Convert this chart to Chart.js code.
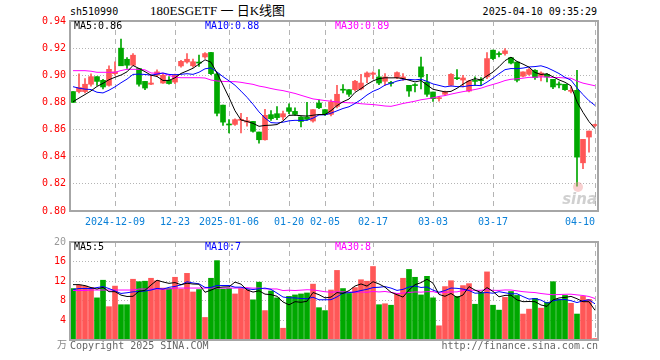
<!DOCTYPE html>
<html>
<head>
<meta charset="utf-8">
<script src="https://cdn.jsdelivr.net/npm/chart.js@4.4.1/dist/chart.umd.min.js"></script>
<style>
body { margin: 0; background: #fff; width: 660px; height: 360px; overflow: hidden; position: relative;
       font-family: 'DejaVu Sans Mono', 'Noto Sans CJK SC', monospace; font-size: 10px; color: #000; }
.t { position: absolute; white-space: pre; line-height: 12px; }
#priceBox { position: absolute; left: 0; top: 0; width: 660px; height: 232px; }
#volBox { position: absolute; left: 0; top: 232px; width: 660px; height: 128px; }
</style>
</head>
<body>
<div class="t" style="left:70px;top:6px;">sh510990</div>
<div class="t" style="left:150px;top:3px;line-height:16px;font-size:13px;font-family:'Liberation Serif','Noto Sans CJK SC',serif;">180ESGETF 一 日K线图</div>
<div class="t" style="right:63px;top:6px;">2025-04-10 09:35:29</div>
<div id="priceBox"><canvas id="priceChart"></canvas></div>
<div id="volBox"><canvas id="volChart"></canvas></div>
<div class="t" style="left:57px;top:339px;color:#888;">万</div>
<div class="t" style="left:70px;top:340px;color:#666;">Copyright 2025 SINA.COM</div>
<div class="t" style="right:62px;top:340px;color:#666;">http://finance.sina.com.cn</div>
<script>
// 交易日
const dates = [
    '2024-11-28', '2024-11-29', '2024-12-02', '2024-12-03', '2024-12-04', '2024-12-05', '2024-12-06',
    '2024-12-09', '2024-12-10', '2024-12-11', '2024-12-12', '2024-12-13', '2024-12-16', '2024-12-17',
    '2024-12-18', '2024-12-19', '2024-12-20', '2024-12-23', '2024-12-24', '2024-12-25', '2024-12-26',
    '2024-12-27', '2024-12-30', '2024-12-31', '2025-01-02', '2025-01-03', '2025-01-06', '2025-01-07',
    '2025-01-08', '2025-01-09', '2025-01-10', '2025-01-13', '2025-01-14', '2025-01-15', '2025-01-16',
    '2025-01-17', '2025-01-20', '2025-01-21', '2025-01-22', '2025-01-23', '2025-01-24', '2025-01-27',
    '2025-02-05', '2025-02-06', '2025-02-07', '2025-02-10', '2025-02-11', '2025-02-12', '2025-02-13',
    '2025-02-14', '2025-02-17', '2025-02-18', '2025-02-19', '2025-02-20', '2025-02-21', '2025-02-24',
    '2025-02-25', '2025-02-26', '2025-02-27', '2025-02-28', '2025-03-03', '2025-03-04', '2025-03-05',
    '2025-03-06', '2025-03-07', '2025-03-10', '2025-03-11', '2025-03-12', '2025-03-13', '2025-03-14',
    '2025-03-17', '2025-03-18', '2025-03-19', '2025-03-20', '2025-03-21', '2025-03-24', '2025-03-25',
    '2025-03-26', '2025-03-27', '2025-03-28', '2025-03-31', '2025-04-01', '2025-04-02', '2025-04-03',
    '2025-04-07', '2025-04-08', '2025-04-09', '2025-04-10'
];

// x轴刻度
const tickDates = ['2024-12-09', '2024-12-23', '2025-01-06', '2025-01-20', '2025-02-05',
                   '2025-02-17', '2025-03-03', '2025-03-17', '2025-04-10'];
const tickLabels = ['2024-12-09', '12-23', '2025-01-06', '01-20', '02-05',
                    '02-17', '03-03', '03-17', '04-10'];

// K线 开高低收
const opens = [
    0.888, 0.888, 0.888, 0.8934, 0.899, 0.8963, 0.8926, 0.9012, 0.920, 0.9118,
    0.9074, 0.905, 0.8955, 0.8934, 0.900, 0.8943, 0.8963, 0.895, 0.9069, 0.9098,
    0.907, 0.9095, 0.9135, 0.9168, 0.901, 0.878, 0.8636, 0.8638, 0.8668, 0.8655,
    0.866, 0.8582, 0.8525, 0.871, 0.8717, 0.8693, 0.8761, 0.8734, 0.8693, 0.8693,
    0.8663, 0.8796, 0.8747, 0.8712, 0.8771, 0.8895, 0.8894, 0.8894, 0.890, 0.8988,
    0.9007, 0.8988, 0.8956, 0.8945, 0.8983, 0.8975, 0.8926, 0.8928, 0.9062, 0.895,
    0.8877, 0.8828, 0.886, 0.8926, 0.8978, 0.8965, 0.8884, 0.8960, 0.8965, 0.8988,
    0.9185, 0.9157, 0.916, 0.913, 0.9098, 0.8993, 0.9007, 0.9037, 0.8993, 0.9007,
    0.897, 0.8933, 0.8934, 0.8882, 0.8889, 0.8355, 0.8545, 0.863
];
const highs = [
    0.888, 0.901, 0.8975, 0.901, 0.899, 0.897, 0.907, 0.910, 0.9266, 0.913,
    0.916, 0.905, 0.8955, 0.900, 0.904, 0.901, 0.899, 0.9008, 0.911, 0.916,
    0.912, 0.9148, 0.9168, 0.917, 0.902, 0.878, 0.8673, 0.868, 0.872, 0.869,
    0.866, 0.8582, 0.875, 0.874, 0.877, 0.8737, 0.879, 0.876, 0.8695, 0.880,
    0.8747, 0.882, 0.8747, 0.882, 0.8926, 0.8931, 0.8894, 0.8963, 0.9007, 0.9025,
    0.9025, 0.9042, 0.9012, 0.8956, 0.9025, 0.9012, 0.8926, 0.8939, 0.9135, 0.9007,
    0.8877, 0.8845, 0.8884, 0.9012, 0.9042, 0.900, 0.8963, 0.8988, 0.8983, 0.9167,
    0.9185, 0.9172, 0.9197, 0.913, 0.9098, 0.9025, 0.905, 0.9042, 0.9025, 0.9012,
    0.897, 0.8951, 0.8934, 0.8914, 0.9037, 0.8528, 0.8589, 0.864
];
const lows = [
    0.880, 0.887, 0.887, 0.892, 0.8926, 0.890, 0.892, 0.900, 0.907, 0.905,
    0.907, 0.892, 0.8894, 0.893, 0.899, 0.894, 0.8934, 0.8938, 0.906, 0.909,
    0.906, 0.9066, 0.9125, 0.9005, 0.870, 0.863, 0.8575, 0.863, 0.8575, 0.8625,
    0.858, 0.850, 0.8522, 0.8668, 0.8673, 0.8673, 0.8717, 0.8705, 0.8619, 0.867,
    0.8655, 0.8754, 0.8705, 0.870, 0.876, 0.887, 0.8845, 0.8884, 0.8893, 0.8946,
    0.8975, 0.8931, 0.8926, 0.892, 0.8975, 0.8963, 0.8845, 0.8877, 0.890, 0.8845,
    0.8808, 0.881, 0.8852, 0.8921, 0.8968, 0.8914, 0.8877, 0.8926, 0.8926, 0.8975,
    0.9115, 0.9135, 0.9148, 0.9083, 0.8951, 0.8988, 0.900, 0.897, 0.8958, 0.8951,
    0.8901, 0.8907, 0.8889, 0.887, 0.8183, 0.8311, 0.8434, 0.862
];
const closes = [
    0.880, 0.891, 0.8934, 0.899, 0.8955, 0.8914, 0.9044, 0.9025, 0.907, 0.9074,
    0.9148, 0.8934, 0.8906, 0.8943, 0.9025, 0.900, 0.8939, 0.900, 0.9103, 0.9118,
    0.910, 0.909, 0.916, 0.9012, 0.872, 0.8655, 0.8634, 0.8673, 0.867, 0.8665,
    0.8587, 0.8525, 0.8705, 0.868, 0.8688, 0.8717, 0.8734, 0.8712, 0.866, 0.8675,
    0.8747, 0.8761, 0.8712, 0.8803, 0.886, 0.889, 0.886, 0.8956, 0.8943, 0.9017,
    0.9017, 0.8943, 0.8988, 0.894, 0.902, 0.8988, 0.8884, 0.8924, 0.8988, 0.886,
    0.8828, 0.8835, 0.8877, 0.9007, 0.8975, 0.898, 0.8958, 0.8955, 0.896, 0.9123,
    0.9123, 0.9153, 0.918, 0.909, 0.8963, 0.9025, 0.9042, 0.8983, 0.9017, 0.8988,
    0.8914, 0.8929, 0.8894, 0.8885, 0.8397, 0.8528, 0.8589, 0.8636
];

// 成交量(万)
const volumes = [
    10.5, 11.2, 11.0, 10.7, 8.6, 12.2, 6.8, 11.0, 7.2, 7.2,
    12.4, 11.9, 12.0, 12.6, 12.1, 10.6, 10.5, 12.8, 10.4, 13.6,
    9.8, 10.3, 4.6, 12.6, 16.2, 10.4, 10.5, 9.4, 10.5, 10.3,
    8.2, 11.8, 6.0, 10.0, 8.6, 2.4, 8.9, 9.2, 9.4, 9.6,
    11.4, 6.6, 6.0, 10.2, 14.2, 10.5, 9.5, 10.7, 12.3, 12.0,
    15.0, 7.2, 7.4, 7.1, 9.5, 12.6, 14.4, 12.8, 9.2, 13.0,
    8.6, 2.9, 10.9, 12.1, 8.9, 11.1, 11.5, 7.3, 9.7, 13.9,
    7.1, 6.1, 8.7, 9.9, 9.1, 5.3, 6.3, 8.5, 6.5, 7.7,
    11.9, 8.3, 9.1, 7.5, 5.3, 8.9, 8.3, 0.3
];

// 图上可见的均线起始段(窗口之前没有数据)
const ma5Head = [0.8805, 0.8832, 0.8858, 0.8885];
const ma10Head = [0.8916, 0.8905, 0.8898, 0.8895, 0.8875, 0.887, 0.889, 0.8915, 0.8945];
const ma30Head = [
    0.9034, 0.9034, 0.9034, 0.903, 0.9022, 0.9022, 0.9022, 0.9022, 0.9035, 0.9044,
    0.9044, 0.9044, 0.904, 0.9017, 0.9015, 0.9015, 0.900, 0.8985, 0.8982, 0.8982,
    0.8982, 0.8982, 0.898, 0.8965, 0.8958, 0.8955, 0.8953, 0.8953, 0.8948
];
const volMa5Head = [11.3, 11.3, 11.1, 10.7];
const volMa10Head = [10.3, 10.5, 10.5, 10.5, 10.7, 10.9, 10.5, 10.0, 9.5];
const volMa30Head = [
    10.1, 10.1, 10.1, 10.2, 10.2, 10.2, 10.2, 10.2, 10.2, 10.2,
    10.2, 10.4, 10.4, 10.4, 10.4, 10.4, 10.4, 10.6, 10.6, 10.6,
    10.6, 10.6, 10.6, 10.6, 10.6, 10.6, 10.6, 10.6, 10.6
];

Chart.defaults.font.family = "'DejaVu Sans Mono', monospace";
Chart.defaults.font.size = 10;
Chart.defaults.animation = false;

const UP = '#ff5757';
const DOWN = '#00a800';
const candleColors = closes.map((c, i) => c >= opens[i] ? UP : DOWN);

function movingAverage(values, n, head) {
    return values.map((v, i) => {
        if (i < n - 1) return head[i];
        let sum = 0;
        for (let k = i - n + 1; k <= i; k++) sum += values[k];
        return sum / n;
    });
}

function maLine(data, color) {
    return {
        type: 'line', data: data, borderColor: color, borderWidth: 1,
        pointRadius: 0, tension: 0, order: 0
    };
}

// 日期竖线只画在刻度日
function dateGridColor(ctx) {
    return tickDates.includes(dates[ctx.index]) ? '#b4b4b4' : 'rgba(0,0,0,0)';
}

// 边框 + 图例文字
function panelPlugin(legends, watermark) {
    return {
        id: 'panel',
        afterDraw(chart) {
            const a = chart.chartArea;
            const ctx = chart.ctx;
            ctx.save();
            ctx.strokeStyle = '#a6a6a6';
            ctx.lineWidth = 2;
            ctx.strokeRect(a.left, a.top, a.right - a.left, a.bottom - a.top);
            ctx.font = "10px 'DejaVu Sans Mono', monospace";
            ctx.textBaseline = 'middle';
            legends.forEach(l => {
                ctx.fillStyle = l.color;
                ctx.fillText(l.text, l.x, a.top + 5.5);
            });
            if (watermark) {
                ctx.fillStyle = 'rgba(240,150,150,0.45)';
                ctx.beginPath();
                ctx.arc(a.right - 20, a.bottom - 24, 5, 0, Math.PI * 2);
                ctx.fill();
                ctx.fillStyle = 'rgba(170,170,170,0.55)';
                ctx.font = "italic bold 15px 'DejaVu Sans', sans-serif";
                ctx.textAlign = 'right';
                ctx.fillText('sina', a.right - 1, a.bottom - 11);
            }
            ctx.restore();
        }
    };
}

// K线图
new Chart(document.getElementById('priceChart'), {
    type: 'bar',
    data: {
        labels: dates,
        datasets: [
            maLine(movingAverage(closes, 5, ma5Head), '#000000'),
            maLine(movingAverage(closes, 10, ma10Head), '#0000ff'),
            maLine(movingAverage(closes, 30, ma30Head), '#ff00ff'),
            {
                data: closes.map((c, i) => [opens[i], c]),
                backgroundColor: candleColors,
                barThickness: 5, minBarLength: 1, grouped: false, order: 1
            },
            {
                data: highs.map((h, i) => [lows[i], h]),
                backgroundColor: candleColors,
                barThickness: 1, grouped: false, order: 2
            }
        ]
    },
    options: {
        responsive: true,
        maintainAspectRatio: false,
        layout: { padding: { top: 21, right: 62, left: 0, bottom: 0 } },
        plugins: { legend: { display: false }, tooltip: { enabled: false } },
        scales: {
            x: {
                offset: true,
                grid: { offset: false, drawTicks: false, color: dateGridColor },
                border: { display: false, dash: [5, 4] },
                ticks: {
                    autoSkip: false, maxRotation: 0, padding: 5, color: '#0a80d8',
                    callback: function(v, i) {
                        const k = tickDates.indexOf(dates[i]);
                        if (k < 0) return '';
                        // 最后一个刻度文字靠右边框
                        return i === dates.length - 1 ? tickLabels[k] + '     ' : tickLabels[k];
                    }
                },
                afterFit: s => { s.height = 21; }
            },
            y: {
                min: 0.80,
                max: 0.94,
                ticks: { stepSize: 0.02, padding: 4, color: '#ff0000', callback: v => v.toFixed(2) },
                grid: { drawTicks: false, color: '#b4b4b4' },
                border: { display: false, dash: [1, 2] },
                afterFit: s => { s.width = 70; }
            }
        }
    },
    plugins: [panelPlugin([
        { text: 'MA5:0.86', x: 74, color: '#000000' },
        { text: 'MA10:0.88', x: 205, color: '#0000ff' },
        { text: 'MA30:0.89', x: 335, color: '#ff00ff' }
    ], true)]
});

// 成交量图
new Chart(document.getElementById('volChart'), {
    type: 'bar',
    data: {
        labels: dates,
        datasets: [
            maLine(movingAverage(volumes, 5, volMa5Head), '#000000'),
            maLine(movingAverage(volumes, 10, volMa10Head), '#0000ff'),
            maLine(movingAverage(volumes, 30, volMa30Head), '#ff00ff'),
            {
                data: volumes,
                backgroundColor: candleColors,
                barThickness: 5, order: 1
            }
        ]
    },
    options: {
        responsive: true,
        maintainAspectRatio: false,
        layout: { padding: { top: 8, right: 62, left: 0, bottom: 20 } },
        plugins: { legend: { display: false }, tooltip: { enabled: false } },
        scales: {
            x: {
                offset: true,
                grid: { offset: false, drawTicks: false, color: dateGridColor },
                border: { display: false, dash: [5, 4] },
                ticks: { display: false },
                afterFit: s => { s.height = 0; }
            },
            y: {
                min: 0,
                max: 20,
                ticks: {
                    stepSize: 4, padding: 4,
                    color: ctx => ctx.tick && ctx.tick.value === 20 ? '#999999' : '#ff0000',
                    callback: v => v === 0 ? '' : v
                },
                grid: { drawTicks: false, color: '#b4b4b4' },
                border: { display: false, dash: [1, 2] },
                afterFit: s => { s.width = 70; }
            }
        }
    },
    plugins: [panelPlugin([
        { text: 'MA5:5', x: 74, color: '#000000' },
        { text: 'MA10:7', x: 205, color: '#0000ff' },
        { text: 'MA30:8', x: 335, color: '#ff00ff' }
    ], false)]
});
</script>
</body>
</html>
